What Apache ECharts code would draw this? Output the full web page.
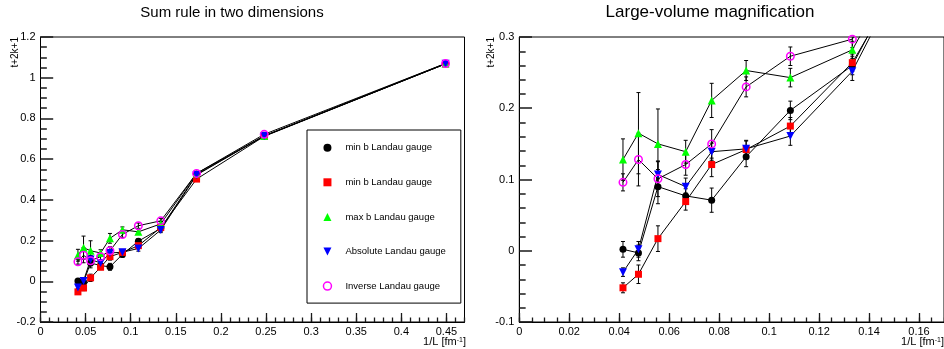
<!DOCTYPE html>
<html><head><meta charset="utf-8">
<script src="https://cdn.jsdelivr.net/npm/echarts@6/dist/echarts.min.js"></script>
<style>html,body{margin:0;padding:0;background:#fff}#c{width:944px;height:349px}</style>
</head><body><div id="c"></div>
<script>
// ---- data ----
const xInvL = [0.0415, 0.0477, 0.0555, 0.0666, 0.077, 0.0908, 0.1085, 0.1333, 0.173, 0.248, 0.449];

const minB1 = [0.002, -0.003, 0.090, 0.077, 0.071, 0.132, 0.197, 0.260, 0.525, 0.714, 1.068];
const minB1Err = [0.011, 0.011, 0.024, 0.010, 0.017, 0.014, 0.013, 0.013, 0.010, 0.010, 0.010];

const minB2 = [-0.052, -0.033, 0.017, 0.069, 0.121, 0.142, 0.175, 0.264, 0.502, 0.712, 1.068];
const minB2Err = [0.007, 0.013, 0.018, 0.012, 0.017, 0.012, 0.012, 0.012, 0.010, 0.010, 0.010];

const maxB = [0.128, 0.165, 0.150, 0.139, 0.211, 0.253, 0.243, 0.282, 0.530, 0.714, 1.070];
const maxBErr = [0.029, 0.057, 0.049, 0.016, 0.024, 0.014, 0.013, 0.012, 0.010, 0.010, 0.010];

const absL = [-0.030, 0.002, 0.107, 0.090, 0.139, 0.143, 0.161, 0.252, 0.522, 0.714, 1.068];
const absLErr = [0.006, 0.011, 0.018, 0.012, 0.012, 0.012, 0.013, 0.013, 0.010, 0.010, 0.010];

const invL = [0.096, 0.128, 0.101, 0.121, 0.150, 0.230, 0.273, 0.297, 0.530, 0.722, 1.070];
const invLErr = [0.012, 0.037, 0.025, 0.015, 0.020, 0.014, 0.013, 0.012, 0.010, 0.010, 0.010];

const seriesKeys = ['minb1', 'minb2', 'maxb', 'abs', 'inv'];
const legendLabels = ['min b Landau gauge', 'min b Landau gauge', 'max b Landau gauge', 'Absolute Landau gauge', 'Inverse Landau gauge'];
const titles = ['Sum rule in two dimensions', 'Large-volume magnification'];
const yTitle = 't+2k+1';

// ---- styling ----
const FONT = '"Liberation Sans", Arial, Helvetica, sans-serif';
const TICK = '#1a1a1a';
const values = [minB1, minB2, maxB, absL, invL];
const errors = [minB1Err, minB2Err, maxBErr, absLErr, invLErr];
const markerStyles = [
  {symbol: 'circle', size: 7, item: {color: '#000000'}},
  {symbol: 'rect', size: 7, item: {color: '#ff0000'}},
  {symbol: 'triangle', size: 8, item: {color: '#00ff00'}},
  {symbol: 'path://M0,0 L10,0 L5,10 Z', size: 8, item: {color: '#0000ff'}},
  {symbol: 'circle', size: 7.5, item: {color: 'rgba(0,0,0,0)', borderColor: '#ff00ff', borderWidth: 1.5}}
];
const legendIcons = ['circle', 'rect', 'triangle', 'path://M0,0 L10,0 L5,10 Z', 'circle'];

function errRender(params, api) {
  const x = api.value(0), y = api.value(1), e = api.value(2);
  const cs = params.coordSys;
  const p = api.coord([x, y]);
  if (p[0] < cs.x - 0.5 || p[0] > cs.x + cs.width + 0.5) return;
  const top = api.coord([x, y + e])[1];
  const bot = api.coord([x, y - e])[1];
  const y0 = cs.y, y1 = cs.y + cs.height;
  const t = Math.max(top, y0), b = Math.min(bot, y1);
  if (t >= b) return;
  const st = {stroke: '#000', lineWidth: 1};
  const ch = [{type: 'line', shape: {x1: p[0], y1: t, x2: p[0], y2: b}, style: st}];
  if (top >= y0) ch.push({type: 'line', shape: {x1: p[0] - 2, y1: top, x2: p[0] + 2, y2: top}, style: st});
  if (bot <= y1) ch.push({type: 'line', shape: {x1: p[0] - 2, y1: bot, x2: p[0] + 2, y2: bot}, style: st});
  return {type: 'group', children: ch};
}

const series = [];
[0, 1].forEach(g => {
  seriesKeys.forEach((k, i) => {
    series.push({
      type: 'line', name: k, xAxisIndex: g * 2, yAxisIndex: g, z: 3,
      data: xInvL.map((x, j) => [x, values[i][j]]),
      symbol: markerStyles[i].symbol, symbolSize: markerStyles[i].size,
      itemStyle: markerStyles[i].item,
      lineStyle: {color: '#000', width: 1},
      clip: true, emphasis: {disabled: true}, animation: false
    });
  });
});
[0, 1].forEach(g => {
  seriesKeys.forEach((k, i) => {
    series.push({
      type: 'custom', name: k, xAxisIndex: g * 2, yAxisIndex: g, z: 2,
      data: xInvL.map((x, j) => [x, values[i][j], errors[i][j]]),
      encode: {x: 0, y: 1},
      renderItem: errRender, animation: false, silent: true
    });
  });
});

const lbl = {color: '#000', fontSize: 11, fontFamily: FONT};
function majorX(grid, max, interval, tickLen) {
  return {type: 'value', gridIndex: grid, position: 'bottom', min: 0, max: max, interval: interval,
    axisLine: {show: true, onZero: false, lineStyle: {color: '#000', width: 1}},
    axisTick: {show: true, inside: true, length: tickLen, lineStyle: {color: TICK, width: 1.3}},
    axisLabel: Object.assign({margin: 4, showMaxLabel: false}, lbl),
    splitLine: {show: false}};
}
function minorX(grid, max, interval, tickLen) {
  return {type: 'value', gridIndex: grid, position: 'bottom', min: 0, max: max, interval: interval,
    axisLine: {show: false, onZero: false}, axisLabel: {show: false}, splitLine: {show: false},
    axisTick: {show: true, inside: true, length: tickLen, lineStyle: {color: TICK, width: 1.3}}};
}
function majorY(grid, min, max, interval, tickLen, minorSplit) {
  return {type: 'value', gridIndex: grid, position: 'left', min: min, max: max, interval: interval,
    axisLine: {show: true, onZero: false, lineStyle: {color: '#000', width: 1}},
    axisTick: {show: true, inside: true, length: tickLen, lineStyle: {color: TICK, width: 1.5}},
    minorTick: {show: true, splitNumber: minorSplit, length: tickLen / 2, lineStyle: {color: TICK, width: 1.5}},
    axisLabel: Object.assign({margin: 5}, lbl),
    splitLine: {show: false}, minorSplitLine: {show: false}};
}

const option = {
  backgroundColor: '#fff',
  animation: false,
  title: [
    {text: titles[0], left: 232, top: 5, textAlign: 'center', padding: 0,
     textStyle: {fontSize: 15, fontWeight: 'normal', color: '#000', fontFamily: FONT}},
    {text: titles[1], left: 710, top: 4, textAlign: 'center', padding: 0,
     textStyle: {fontSize: 17, fontWeight: 'normal', color: '#000', fontFamily: FONT}}
  ],
  grid: [
    {left: 40.5, top: 37, width: 424, height: 285, show: true, borderColor: '#000', borderWidth: 1, backgroundColor: 'transparent'},
    {left: 519.3, top: 37, width: 425.5, height: 285, show: true, borderColor: '#000', borderWidth: 1, backgroundColor: 'transparent'}
  ],
  xAxis: [
    majorX(0, 0.47, 0.05, 9),
    minorX(0, 0.47, 0.01, 4.5),
    majorX(1, 0.17, 0.02, 9),
    minorX(1, 0.17, 0.005, 4.5)
  ],
  yAxis: [
    majorY(0, -0.2, 1.2, 0.2, 12.7, 4),
    majorY(1, -0.1, 0.3, 0.1, 12.7, 5)
  ],
  legend: {
    orient: 'vertical', left: 307, top: 130,
    padding: [11.7, 15, 11, 15.7],
    itemGap: 22.6, itemWidth: 8, itemHeight: 8,
    backgroundColor: '#fff', borderColor: '#000', borderWidth: 1, borderRadius: 0,
    selectedMode: false,
    textStyle: {fontSize: 9.5, color: '#000', fontFamily: FONT, lineHeight: 12, padding: [0, 0, 0, 9]},
    formatter: function (name) { return legendLabels[seriesKeys.indexOf(name)]; },
    data: seriesKeys.map((k, i) => ({name: k, icon: legendIcons[i], itemStyle: markerStyles[i].item}))
  },
  graphic: [
    {type: 'text', x: 15, y: 37, rotation: Math.PI / 2,
     style: {text: yTitle, align: 'right', verticalAlign: 'middle', fontSize: 10, fill: '#000', fontFamily: FONT}},
    {type: 'text', x: 491, y: 37, rotation: Math.PI / 2,
     style: {text: yTitle, align: 'right', verticalAlign: 'middle', fontSize: 10, fill: '#000', fontFamily: FONT}},
    {type: 'text', x: 466, y: 342,
     style: {text: '1/L [fm{sup|-1}]', align: 'right', verticalAlign: 'middle', fontSize: 11, fill: '#000', fontFamily: FONT,
       rich: {sup: {fontSize: 7, verticalAlign: 'top', fill: '#000', fontFamily: FONT}}}},
    {type: 'text', x: 944, y: 342,
     style: {text: '1/L [fm{sup|-1}]', align: 'right', verticalAlign: 'middle', fontSize: 11, fill: '#000', fontFamily: FONT,
       rich: {sup: {fontSize: 7, verticalAlign: 'top', fill: '#000', fontFamily: FONT}}}}
  ],
  series: series
};

const chart = echarts.init(document.getElementById('c'), null, {renderer: 'canvas'});
chart.setOption(option);
</script>
</body></html>
